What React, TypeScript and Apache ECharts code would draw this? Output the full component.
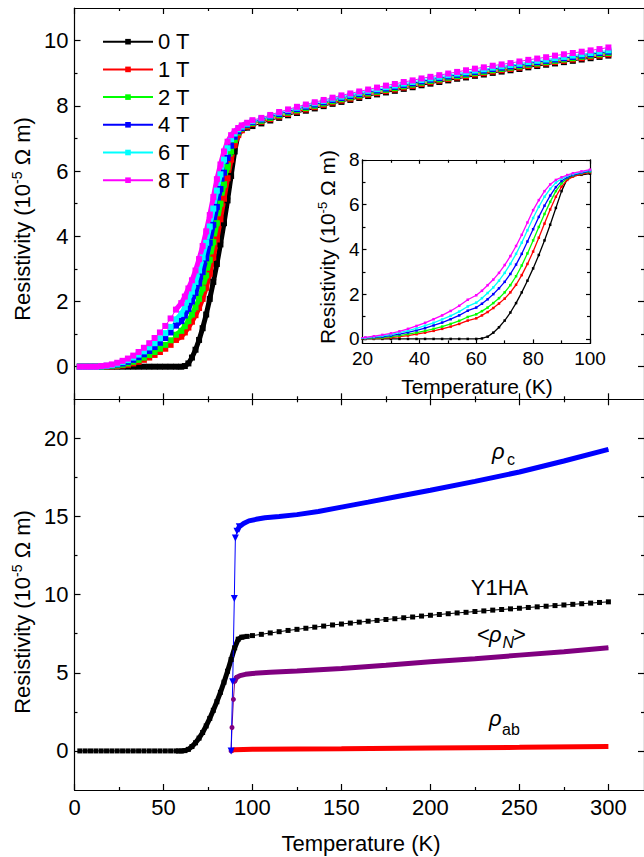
import React, { useEffect, useRef } from 'react';
import * as echarts from 'echarts';

const FONT = '"Liberation Sans", Arial, Helvetica, sans-serif';

// ---------- Top panel / inset data (Y1HA in magnetic fields) ----------
const FIELD_NAMES = ['0 T', '1 T', '2 T', '4 T', '6 T', '8 T'];
const FIELD_COLORS = ['#000000', '#ff0000', '#00ff00', '#0000ff', '#00ffff', '#ff00ff'];

const T_FIELD = [
  3, 6, 9, 12, 15, 18, 21, 24, 27, 30, 33, 36, 39, 42, 45, 48, 51, 54, 57,
  60, 62, 64, 66, 68, 70, 72, 74, 76, 78, 80, 82, 84, 86, 88, 90, 92, 94,
  97,
  100, 105, 110, 115, 120, 125, 130, 135, 140, 145, 150, 155, 160, 165, 170, 175, 180, 185, 190, 195,
  200, 205, 210, 215, 220, 225, 230, 235, 240, 245, 250, 255, 260, 265, 270, 275, 280, 285, 290, 295, 300,
];

const R_0T = [
  0, 0, 0, 0, 0, 0, 0, 0, 0, 0, 0, 0, 0, 0, 0, 0, 0, 0, 0,
  0, 0.02, 0.1, 0.28, 0.52, 0.82, 1.18, 1.6, 2.08, 2.6, 3.15, 3.75, 4.4, 5.1, 5.85, 6.6, 7.15, 7.28,
  7.33,
  7.38, 7.46, 7.55, 7.63, 7.71, 7.78, 7.85, 7.92, 7.99, 8.06, 8.12, 8.18, 8.24, 8.30, 8.35, 8.41, 8.46, 8.52, 8.57, 8.63,
  8.68, 8.73, 8.78, 8.83, 8.87, 8.92, 8.96, 9.01, 9.05, 9.09, 9.13, 9.18, 9.22, 9.26, 9.30, 9.34, 9.38, 9.42, 9.46, 9.50, 9.54,
];
const R_1T = [
  0, 0, 0, 0, 0, 0, 0.01, 0.02, 0.04, 0.06, 0.1, 0.15, 0.21, 0.28, 0.36, 0.45, 0.55, 0.67, 0.82,
  0.92, 1.05, 1.2, 1.38, 1.58, 1.8, 2.08, 2.42, 2.85, 3.35, 3.9, 4.52, 5.15, 5.78, 6.35, 6.8, 7.1, 7.25,
  7.36,
  7.44, 7.51, 7.59, 7.67, 7.75, 7.82, 7.89, 7.96, 8.03, 8.10, 8.16, 8.22, 8.28, 8.34, 8.39, 8.45, 8.50, 8.56, 8.61, 8.67,
  8.72, 8.77, 8.82, 8.87, 8.91, 8.96, 9.00, 9.05, 9.09, 9.13, 9.17, 9.22, 9.26, 9.30, 9.34, 9.38, 9.42, 9.46, 9.50, 9.54, 9.58,
];
const R_2T = [
  0, 0, 0, 0, 0, 0.01, 0.02, 0.04, 0.06, 0.1, 0.15, 0.21, 0.28, 0.36, 0.45, 0.55, 0.67, 0.81, 0.98,
  1.1, 1.24, 1.4, 1.6, 1.82, 2.08, 2.4, 2.8, 3.28, 3.82, 4.4, 5.0, 5.58, 6.12, 6.6, 6.95, 7.18, 7.3,
  7.4,
  7.47, 7.54, 7.63, 7.71, 7.79, 7.86, 7.93, 8.00, 8.07, 8.14, 8.20, 8.26, 8.32, 8.38, 8.43, 8.49, 8.54, 8.60, 8.65, 8.71,
  8.76, 8.81, 8.86, 8.91, 8.95, 9.00, 9.04, 9.09, 9.13, 9.17, 9.21, 9.26, 9.30, 9.34, 9.38, 9.42, 9.46, 9.50, 9.54, 9.58, 9.62,
];
const R_4T = [
  0, 0, 0, 0, 0.01, 0.02, 0.04, 0.07, 0.1, 0.15, 0.21, 0.29, 0.38, 0.48, 0.6, 0.73, 0.88, 1.05, 1.26,
  1.4, 1.57, 1.77, 2.0, 2.26, 2.55, 2.9, 3.32, 3.8, 4.35, 4.9, 5.45, 5.95, 6.4, 6.78, 7.05, 7.22, 7.32,
  7.42,
  7.50, 7.58, 7.67, 7.75, 7.83, 7.90, 7.97, 8.04, 8.11, 8.18, 8.24, 8.30, 8.36, 8.42, 8.47, 8.53, 8.58, 8.64, 8.69, 8.75,
  8.80, 8.85, 8.90, 8.95, 8.99, 9.04, 9.08, 9.13, 9.17, 9.21, 9.25, 9.30, 9.34, 9.38, 9.42, 9.46, 9.50, 9.54, 9.58, 9.62, 9.66,
];
const R_6T = [
  0, 0, 0, 0, 0.01, 0.03, 0.05, 0.09, 0.14, 0.2, 0.28, 0.37, 0.47, 0.59, 0.72, 0.87, 1.03, 1.22, 1.45,
  1.62, 1.82, 2.05, 2.3, 2.6, 2.95, 3.35, 3.8, 4.3, 4.85, 5.4, 5.9, 6.35, 6.7, 6.98, 7.15, 7.28, 7.36,
  7.45,
  7.53, 7.61, 7.70, 7.79, 7.87, 7.94, 8.01, 8.08, 8.15, 8.22, 8.28, 8.34, 8.40, 8.46, 8.51, 8.57, 8.62, 8.68, 8.73, 8.79,
  8.84, 8.89, 8.94, 8.99, 9.03, 9.08, 9.12, 9.17, 9.21, 9.25, 9.29, 9.34, 9.38, 9.42, 9.46, 9.50, 9.54, 9.58, 9.62, 9.66, 9.70,
];
const R_8T = [
  0, 0, 0, 0, 0.02, 0.04, 0.07, 0.12, 0.18, 0.25, 0.34, 0.45, 0.58, 0.72, 0.88, 1.05, 1.25, 1.48, 1.75,
  1.95, 2.15, 2.4, 2.65, 2.95, 3.3, 3.7, 4.15, 4.65, 5.2, 5.75, 6.2, 6.6, 6.9, 7.1, 7.22, 7.32, 7.4,
  7.48,
  7.56, 7.63, 7.72, 7.81, 7.89, 7.97, 8.04, 8.11, 8.18, 8.25, 8.32, 8.38, 8.44, 8.50, 8.56, 8.62, 8.67, 8.73, 8.78, 8.84,
  8.89, 8.94, 8.99, 9.04, 9.09, 9.14, 9.18, 9.23, 9.27, 9.31, 9.36, 9.41, 9.45, 9.49, 9.54, 9.58, 9.62, 9.66, 9.70, 9.74, 9.79,
];
const FIELD_R = [R_0T, R_1T, R_2T, R_4T, R_6T, R_8T];

// ---------- Bottom panel data ----------
const T_RHO_C = [88, 88.9, 89.8, 90.4, 91.3, 92.6, 95, 98, 102, 107, 115, 125, 137, 150, 165, 180, 200, 225, 250, 275, 300];
const R_RHO_C = [0, 4.42, 9.76, 13.63, 14.05, 14.35, 14.55, 14.72, 14.82, 14.92, 15.0, 15.12, 15.32, 15.6, 15.92, 16.25, 16.68, 17.25, 17.85, 18.55, 19.3];

const T_RHO_N = [88, 88.5, 89.3, 90, 91, 93, 96, 100, 110, 125, 150, 175, 200, 225, 250, 275, 300];
const R_RHO_N = [0, 1.5, 3.3, 4.45, 4.7, 4.82, 4.9, 4.96, 5.03, 5.12, 5.28, 5.48, 5.7, 5.9, 6.13, 6.35, 6.6];

const T_RHO_AB = [88, 89, 90, 100, 150, 200, 250, 300];
const R_RHO_AB = [0, 0.05, 0.08, 0.1, 0.14, 0.19, 0.23, 0.28];

// ---------- Tick values ----------
const X_MAJOR = [0, 50, 100, 150, 200, 250, 300];
const X_MINOR = [25, 75, 125, 175, 225, 275];
const TOP_Y_MAJOR = [0, 2, 4, 6, 8, 10];
const TOP_Y_MINOR = [1, 3, 5, 7, 9];
const BOT_Y_MAJOR = [0, 5, 10, 15, 20];
const BOT_Y_MINOR = [2.5, 7.5, 12.5, 17.5];
const INS_X_MAJOR = [20, 40, 60, 80, 100];
const INS_X_MINOR = [30, 50, 70, 90];
const INS_Y_MAJOR = [0, 2, 4, 6, 8];
const INS_Y_MINOR = [1, 3, 5, 7];

const LINE = { color: '#000', width: 1.2 };

function frameAxes(gridIndex: number, positions: string[], min: number, max: number,
  major: number[], minor: number[], label: any, majorLen: number, minorLen: number) {
  const out: any[] = [];
  positions.forEach((pos, k) => {
    out.push({
      type: 'value', gridIndex, position: pos, min, max, offset: 0,
      axisLine: { show: true, onZero: false, lineStyle: LINE },
      axisTick: { show: true, inside: true, length: majorLen, customValues: major, lineStyle: LINE },
      axisLabel: k === 0 && label
        ? { show: true, customValues: major, color: '#000', fontFamily: FONT, ...label }
        : { show: false },
      splitLine: { show: false },
      minorTick: { show: false },
      silent: true,
    });
    out.push({
      type: 'value', gridIndex, position: pos, min, max, offset: 0,
      axisLine: { show: false, onZero: false },
      axisTick: { show: true, inside: true, length: minorLen, customValues: minor, lineStyle: LINE },
      axisLabel: { show: false },
      splitLine: { show: false },
      minorTick: { show: false },
      silent: true,
    });
  });
  return out;
}

const pairs = (xs: number[], ys: number[]) => xs.map((x, i) => [x, ys[i]]);

export default function App() {
  const ref = useRef<HTMLDivElement>(null);

  useEffect(() => {
    if (!ref.current) return;
    document.body.style.margin = '0';
    const chart = echarts.init(ref.current, null, { renderer: 'svg' });

    const xAxis = [
      ...frameAxes(0, ['bottom', 'top'], 0, 320, X_MAJOR, X_MINOR, null, 6, 3),
      ...frameAxes(1, ['bottom', 'top'], 0, 320, X_MAJOR, X_MINOR, { fontSize: 22, margin: 6 }, 6, 3),
      ...frameAxes(2, ['bottom', 'top'], 20, 100, INS_X_MAJOR, INS_X_MINOR, { fontSize: 19, margin: 6 }, 4, 3),
    ];
    const yAxis = [
      ...frameAxes(0, ['left', 'right'], -1, 11, TOP_Y_MAJOR, TOP_Y_MINOR, { fontSize: 22, margin: 6 }, 6, 3),
      ...frameAxes(1, ['left', 'right'], -2.5, 22.5, BOT_Y_MAJOR, BOT_Y_MINOR, { fontSize: 22, margin: 6 }, 6, 3),
      ...frameAxes(2, ['left', 'right'], -0.2, 8, INS_Y_MAJOR, INS_Y_MINOR, { fontSize: 19, margin: 3 }, 4, 3),
    ];

    const series: any[] = [];
    // top panel
    FIELD_NAMES.forEach((name, i) => {
      const color = FIELD_COLORS[i];
      const data = pairs(T_FIELD, FIELD_R[i]);
      series.push({
        name: name + ' band', type: 'line', xAxisIndex: 0, yAxisIndex: 0,
        data: data.filter((p) => p[0] >= 57 && p[0] <= 97),
        symbol: 'none', lineStyle: { width: 5, color }, silent: true,
      });
      series.push({
        name, type: 'line', xAxisIndex: 0, yAxisIndex: 0, data,
        symbol: 'rect', symbolSize: 6, showAllSymbol: true,
        lineStyle: { width: 1, color }, itemStyle: { color },
      });
    });
    // inset
    FIELD_NAMES.forEach((name, i) => {
      const color = FIELD_COLORS[i];
      series.push({
        name: name + ' inset', type: 'line', xAxisIndex: 8, yAxisIndex: 8,
        data: pairs(T_FIELD, FIELD_R[i]), clip: true,
        symbol: 'rect', symbolSize: 2.5, showAllSymbol: true,
        lineStyle: { width: 1.3, color }, itemStyle: { color },
      });
    });
    // bottom panel
    const y1ha = pairs(T_FIELD, R_0T);
    series.push({
      name: 'Y1HA band', type: 'line', xAxisIndex: 4, yAxisIndex: 4,
      data: y1ha.filter((p) => p[0] >= 57 && p[0] <= 97),
      symbol: 'none', lineStyle: { width: 5, color: '#000' }, silent: true,
    });
    series.push({
      name: 'Y1HA', type: 'line', xAxisIndex: 4, yAxisIndex: 4, data: y1ha,
      symbol: 'rect', symbolSize: 5, showAllSymbol: true,
      lineStyle: { width: 1, color: '#000' }, itemStyle: { color: '#000' },
    });
    series.push({
      name: 'rho_ab', type: 'line', xAxisIndex: 4, yAxisIndex: 4,
      data: pairs(T_RHO_AB, R_RHO_AB),
      symbol: 'none', lineStyle: { width: 5, color: '#ff0000' },
    });
    const rn = pairs(T_RHO_N, R_RHO_N);
    series.push({
      name: 'rho_N band', type: 'line', xAxisIndex: 4, yAxisIndex: 4,
      data: rn.filter((p) => p[0] >= 90),
      symbol: 'none', lineStyle: { width: 5, color: '#800080' }, silent: true,
    });
    series.push({
      name: 'rho_N', type: 'line', xAxisIndex: 4, yAxisIndex: 4, data: rn,
      symbol: 'circle', symbolSize: (v: number[]) => (v[0] <= 91 ? 5 : 0), showAllSymbol: true,
      lineStyle: { width: 1, color: '#800080' }, itemStyle: { color: '#800080' },
    });
    const rc = pairs(T_RHO_C, R_RHO_C);
    series.push({
      name: 'rho_c band', type: 'line', xAxisIndex: 4, yAxisIndex: 4,
      data: rc.filter((p) => p[0] >= 91),
      symbol: 'none', lineStyle: { width: 5, color: '#0000ff' }, silent: true,
    });
    series.push({
      name: 'rho_c', type: 'line', xAxisIndex: 4, yAxisIndex: 4, data: rc,
      symbol: 'triangle', symbolRotate: 180, symbolSize: (v: number[]) => (v[0] <= 93 ? 7 : 0),
      showAllSymbol: true,
      lineStyle: { width: 1, color: '#0000ff' }, itemStyle: { color: '#0000ff' },
    });

    const txt = (text: string, x: number, y: number, size: number, extra: any = {}) => ({
      type: 'text', x, y, silent: true,
      style: {
        text, fontSize: size, fontFamily: FONT, fill: '#000',
        align: 'left', verticalAlign: 'middle', ...extra,
      },
    });

    const yTitle = (x: number, y: number, size: number, sup: number) => ({
      type: 'text', x, y, rotation: Math.PI / 2, silent: true,
      style: {
        text: '{a|Resistivity (10}{b|-5}{a| Ω m)}',
        align: 'center', verticalAlign: 'middle',
        rich: {
          a: { fontSize: size, fontFamily: FONT, fill: '#000', lineHeight: size + 2 },
          b: { fontSize: sup, fontFamily: FONT, fill: '#000', verticalAlign: 'top', lineHeight: sup + 2 },
        },
      },
    });

    const graphic = [
      yTitle(22, 219, 22, 14),
      yTitle(22, 612, 22, 14),
      yTitle(327, 247, 21, 13),
      txt('Temperature (K)', 361, 843, 22, { align: 'center' }),
      txt('Temperature (K)', 477, 386, 21, { align: 'center' }),
      // ρc
      txt('ρ', 492, 451, 22, { fontStyle: 'italic' }),
      txt('c', 507, 459.5, 16),
      // Y1HA
      txt('Y1HA', 499.5, 587.3, 22, { align: 'center' }),
      // <ρN>
      txt('<', 477, 634.3, 22),
      txt('ρ', 489, 634.3, 22, { fontStyle: 'italic' }),
      txt('N', 502.5, 642.4, 16, { fontStyle: 'italic' }),
      txt('>', 513, 634.3, 22),
      // ρab
      txt('ρ', 489, 718, 22, { fontStyle: 'italic' }),
      txt('ab', 502, 729.4, 16),
    ];

    chart.setOption({
      animation: false,
      backgroundColor: '#ffffff',
      textStyle: { fontFamily: FONT },
      grid: [
        { left: 74.5, right: -2.4, top: 8, bottom: 457.7, show: false },
        { left: 74.5, right: -2.4, top: 399.3, bottom: 67, show: false },
        { left: 362.5, right: 54, top: 159.8, bottom: 513.6, show: true, backgroundColor: '#ffffff', borderWidth: 0 },
      ],
      legend: {
        data: FIELD_NAMES,
        orient: 'vertical', left: 102, top: 30.7, padding: 0,
        itemWidth: 50, itemHeight: 7, itemGap: 5.7,
        selectedMode: false,
        textStyle: { fontSize: 22, fontFamily: FONT, color: '#000', lineHeight: 22 },
      },
      xAxis, yAxis, series, graphic,
    });

    return () => chart.dispose();
  }, []);

  return (
    <div
      ref={ref}
      style={{ position: 'absolute', left: 0, top: 0, width: 644, height: 857, background: '#fff' }}
    />
  );
}
